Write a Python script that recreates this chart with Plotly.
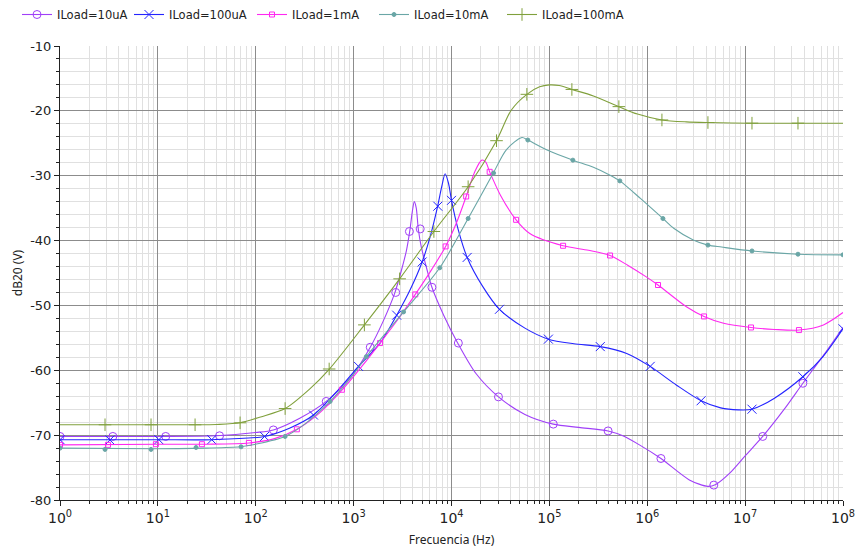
import numpy as np
import plotly.graph_objects as go

# ---------------- data (log10 frequency, dB20) ----------------
labels = ["ILoad=10uA", "ILoad=100uA", "ILoad=1mA", "ILoad=10mA", "ILoad=100mA"]

# curve samples
lf_10uA = [0, 1.0, 1.6, 2.0, 2.18, 2.45, 2.72, 3.0, 3.17, 3.30, 3.42, 3.49, 3.54, 3.575, 3.60, 3.62,
           3.64, 3.66, 3.69, 3.75, 3.80, 3.92, 4.06, 4.25, 4.48, 4.75, 5.04, 5.3, 5.6, 5.75, 5.92,
           6.14, 6.43, 6.62, 6.7, 6.84, 7.0, 7.18, 7.4, 7.59, 7.8, 8.0]
db_10uA = [-70.2, -70.2, -70.1, -69.6, -69.2, -67.4, -64.8, -60.5, -56.45, -52.5, -48.1, -44.5, -41.5, -38.4, -35.5, -34.0,
           -35.0, -38.1, -40.9, -44.5, -47.2, -51.5, -55.7, -60.5, -64.1, -66.8, -68.3, -68.8, -69.35, -70.1, -71.5,
           -73.6, -76.9, -77.9, -77.6, -75.9, -73.2, -70.2, -66.0, -62.0, -57.7, -53.4]

lf_100uA = [0, 1.0, 1.55, 2.09, 2.35, 2.59, 2.85, 3.05, 3.27, 3.44, 3.58, 3.70, 3.78, 3.86, 3.90, 3.935,
            3.97, 4.00, 4.07, 4.16, 4.32, 4.49, 4.75, 4.99, 5.25, 5.52, 5.79, 6.03, 6.3, 6.55, 6.75,
            6.93, 7.07, 7.3, 7.59, 7.8, 8.0]
db_100uA = [-70.7, -70.7, -70.7, -70.2, -68.9, -66.9, -62.9, -59.4, -55.8, -51.5, -47.5, -43.3, -39.5, -34.6, -31.7, -29.7,
            -31.2, -33.8, -38.4, -42.6, -47.1, -50.6, -53.5, -55.2, -55.9, -56.35, -57.4, -59.4, -62.3, -64.7, -65.8,
            -66.1, -66.0, -64.3, -61.0, -57.8, -53.6]

lf_1mA = [0, 1.0, 1.5, 1.93, 2.2, 2.42, 2.65, 2.89, 3.1, 3.27, 3.45, 3.63, 3.80, 3.94, 4.05, 4.15, 4.24,
          4.31, 4.35, 4.39, 4.5, 4.66, 4.80, 5.14, 5.4, 5.62, 5.80, 5.99, 6.11, 6.4, 6.58, 6.78, 7.06,
          7.30, 7.55, 7.8, 8.0]
db_1mA = [-71.5, -71.4, -71.4, -71.2, -70.5, -69.1, -66.6, -62.9, -59.1, -55.8, -52.2, -48.3, -44.4, -40.9, -37.3, -33.2, -29.3,
          -27.6, -27.9, -29.4, -33.0, -36.8, -38.9, -40.8, -41.5, -42.3, -43.8, -45.6, -46.85, -50.2, -51.7, -52.75, -53.4,
          -53.7, -53.8, -53.0, -51.1]

lf_10mA = [0, 1.0, 1.5, 1.84, 2.0, 2.30, 2.5, 2.76, 3.0, 3.13, 3.51, 3.88, 4.17, 4.43, 4.56, 4.72, 4.78,
           5.0, 5.24, 5.45, 5.63, 5.72, 5.93, 6.16, 6.27, 6.47, 6.62, 6.76, 7.07, 7.54, 8.0]
db_10mA = [-72.0, -72.1, -72.0, -71.8, -71.4, -70.2, -68.3, -64.8, -60.6, -57.9, -51.0, -44.2, -36.6, -29.5, -26.0, -24.1, -24.5,
           -26.2, -27.6, -28.7, -30.0, -30.8, -33.5, -36.6, -38.1, -39.9, -40.7, -41.0, -41.6, -42.1, -42.2]

lf_100mA = [0, 1.0, 1.38, 1.6, 1.84, 2.05, 2.30, 2.55, 2.75, 3.11, 3.47, 3.82, 4.17, 4.46, 4.61, 4.77,
            4.9, 5.0, 5.1, 5.23, 5.45, 5.71, 5.9, 6.15, 6.4, 6.62, 7.07, 7.54, 8.0]
db_100mA = [-68.4, -68.4, -68.4, -68.35, -68.1, -67.2, -65.9, -62.9, -59.85, -53.0, -45.9, -38.6, -31.7, -24.6, -19.9, -17.45,
            -16.3, -16.0, -16.1, -16.7, -17.7, -19.35, -20.5, -21.4, -21.7, -21.8, -21.9, -21.9, -21.9]

# marker positions
mlf_10uA = [0, 0.54, 1.08, 1.63, 2.18, 2.72, 3.17, 3.43, 3.57, 3.68, 3.80, 4.07, 4.48, 5.04, 5.60, 6.14, 6.68, 7.18, 7.59]
mdb_10uA = [-70.2, -70.2, -70.2, -70.1, -69.2, -64.8, -56.45, -48.0, -38.6, -38.2, -47.2, -55.8, -64.1, -68.3, -69.35, -73.6, -77.7, -70.2, -62.0]

mlf_100uA = [0, 0.51, 1.01, 1.55, 2.09, 2.59, 3.05, 3.44, 3.70, 3.86, 4.00, 4.16, 4.49, 4.99, 5.52, 6.03, 6.55, 7.07, 7.59, 8.0]
mdb_100uA = [-70.7, -70.75, -70.7, -70.7, -70.2, -66.9, -59.4, -51.5, -43.3, -34.7, -33.8, -42.6, -50.6, -55.2, -56.35, -59.4, -64.7, -66.0, -61.0, -53.6]

mlf_1mA = [0, 0.49, 0.98, 1.45, 1.93, 2.42, 2.88, 3.27, 3.63, 3.94, 4.15, 4.39, 4.66, 5.14, 5.62, 6.11, 6.58, 7.06, 7.55]
mdb_1mA = [-71.5, -71.5, -71.4, -71.4, -71.2, -69.1, -63.0, -55.8, -48.3, -40.9, -33.2, -29.4, -36.8, -40.8, -42.3, -46.85, -51.7, -53.4, -53.8]

mlf_10mA = [0, 0.46, 0.93, 1.39, 1.85, 2.30, 2.76, 3.13, 3.51, 3.88, 4.17, 4.43, 4.78, 5.24, 5.72, 6.16, 6.62, 7.07, 7.54, 8.0]
mdb_10mA = [-72.0, -72.2, -72.2, -71.9, -71.8, -70.2, -64.8, -57.9, -51.0, -44.2, -36.6, -29.6, -24.5, -27.6, -30.8, -36.6, -40.7, -41.6, -42.1, -42.2]

mlf_100mA = [0.46, 0.93, 1.38, 1.84, 2.30, 2.75, 3.11, 3.47, 3.82, 4.17, 4.46, 4.77, 5.23, 5.71, 6.15, 6.62, 7.07, 7.54]
mdb_100mA = [-68.4, -68.4, -68.4, -68.1, -65.9, -59.8, -53.0, -45.9, -38.6, -31.7, -24.6, -17.45, -16.7, -19.35, -21.4, -21.8, -21.9, -21.9]

x_tick_exp = [0, 1, 2, 3, 4, 5, 6, 7, 8]
y_ticks = [-80, -70, -60, -50, -40, -30, -20, -10]

# ---------------- styles ----------------
colors = ["#a040f8", "#2424ff", "#ff28f0", "#6aa6a6", "#80a03c"]
symbols = ["circle-open", "x-thin-open", "square-open", "circle", "cross-thin-open"]
msizes = [8, 9, 5, 4, 9]
legend_px = [17, 129, 252, 374, 502]
W, H = 859, 548

lines = [(lf_10uA, db_10uA), (lf_100uA, db_100uA), (lf_1mA, db_1mA), (lf_10mA, db_10mA), (lf_100mA, db_100mA)]
marks = [(mlf_10uA, mdb_10uA), (mlf_100uA, mdb_100uA), (mlf_1mA, mdb_1mA), (mlf_10mA, mdb_10mA), (mlf_100mA, mdb_100mA)]

fig = go.Figure()
legend_layouts = {}
for i, name in enumerate(labels):
    lx, ly = lines[i]
    mx, my = marks[i]
    lg = "legend" if i == 0 else "legend%d" % (i + 1)
    fig.add_trace(go.Scatter(x=10 ** np.array(lx, dtype=float), y=ly, mode="lines",
                             line=dict(color=colors[i], width=1.1, shape="spline", smoothing=0.8),
                             showlegend=False, hoverinfo="skip"))
    fig.add_trace(go.Scatter(x=10 ** np.array(mx, dtype=float), y=my, mode="markers",
                             marker=dict(symbol=symbols[i], size=msizes[i], color=colors[i],
                                         line=dict(color=colors[i], width=1)),
                             showlegend=False))
    fig.add_trace(go.Scatter(x=[None], y=[None], mode="lines+markers", name=name, legend=lg,
                             line=dict(color=colors[i], width=1.1),
                             marker=dict(symbol=symbols[i], size=msizes[i], color=colors[i],
                                         line=dict(color=colors[i], width=1))))
    legend_layouts[lg] = dict(orientation="h", xref="container", yref="container",
                              x=legend_px[i] / W, y=1.0, xanchor="left", yanchor="top",
                              font=dict(family="DejaVu Sans", size=11.5, color="#222"),
                              itemwidth=30, bgcolor="rgba(0,0,0,0)")

minor_x = [m * 10 ** k for k in range(0, 8) for m in range(2, 10)]

fig.update_layout(
    width=W, height=H,
    margin=dict(l=60, r=16, t=46, b=48),
    paper_bgcolor="white", plot_bgcolor="white",
    font=dict(family="DejaVu Sans", size=12, color="#222222"),
    showlegend=True,
    **legend_layouts,
)
fig.update_xaxes(
    type="log", range=[0, 8], automargin=False,
    tickmode="array", tickvals=[10 ** e for e in x_tick_exp],
    ticktext=["10<sup>%d</sup>" % e for e in x_tick_exp],
    tickfont=dict(family="DejaVu Sans", size=14, color="#222"),
    showgrid=True, gridcolor="#8c8c8c", gridwidth=1,
    ticks="outside", ticklen=5, tickcolor="#222",
    showline=True, linecolor="#222", linewidth=1, mirror=False,
    minor=dict(tickmode="array", tickvals=minor_x, showgrid=True, gridcolor="#e0e0e0",
               ticks="outside", ticklen=3, tickcolor="#222"),
    title=dict(text="Frecuencia (Hz)", font=dict(family="Noto Sans", size=12, color="#222"), standoff=10),
    zeroline=False,
)
fig.update_yaxes(
    range=[-80, -10], automargin=False, tickmode="array", tickvals=y_ticks, ticktext=[str(v) for v in y_ticks],
    tickfont=dict(family="DejaVu Sans", size=13, color="#222"),
    showgrid=True, gridcolor="#8c8c8c", gridwidth=1,
    ticks="outside", ticklen=5, tickcolor="#222",
    showline=True, linecolor="#222", linewidth=1,
    minor=dict(dtick=2, showgrid=True, gridcolor="#e0e0e0", ticks="outside", ticklen=3, tickcolor="#222"),
    title=dict(text="dB20 (V)", font=dict(family="Noto Sans", size=12, color="#222"), standoff=4),
    zeroline=False,
)

fig.write_html("out.html")
